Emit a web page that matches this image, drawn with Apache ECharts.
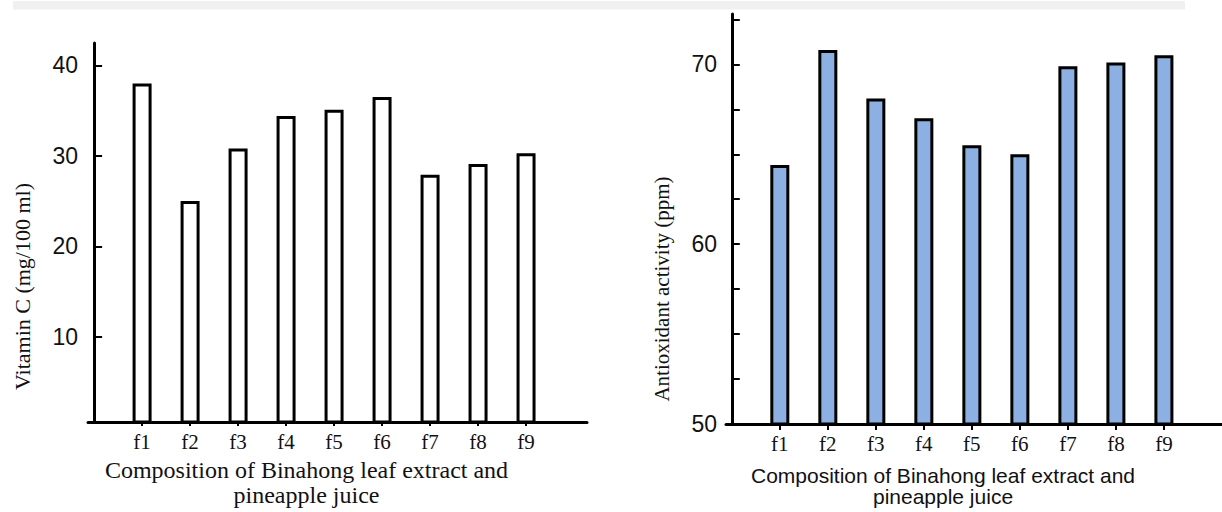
<!DOCTYPE html>
<html>
<head>
<meta charset="utf-8">
<script src="https://cdn.jsdelivr.net/npm/echarts@6/dist/echarts.min.js"></script>
<style>
html,body{margin:0;padding:0;background:#fff;}
#chart{width:1222px;height:512px;}
</style>
</head>
<body>
<div id="chart"></div>
<script>
// ---- data ----
const categories = ['f1', 'f2', 'f3', 'f4', 'f5', 'f6', 'f7', 'f8', 'f9'];
const vitaminC = [38.0, 25.0, 30.8, 34.4, 35.1, 36.5, 27.9, 29.1, 30.3];
const antioxidant = [64.4, 70.8, 68.1, 67.0, 65.5, 65.0, 69.9, 70.1, 70.5];
const vitaminCTicks = [10, 20, 30, 40];
const antioxidantTicks = [52.5, 55, 57.5, 60, 62.5, 65, 67.5, 70, 72.5];
const antioxidantLabels = [50, 60, 70];
const xNameLeft = 'Composition of Binahong leaf extract and\npineapple juice';
const xNameRight = 'Composition of Binahong leaf extract and\npineapple juice';
const yNameLeft = 'Vitamin C (mg/100 ml)';
const yNameRight = 'Antioxidant activity (ppm)';

const positions = categories.map((c, i) => i + 1);
const serif = '"Liberation Serif", "Times New Roman", serif';
const sans = '"Liberation Sans", Arial, sans-serif';

function makeX(gridIndex, min, max, tickLen, name, nameFont, nameSize, lineH, gap) {
  return {
    type: 'value', gridIndex: gridIndex, min: min, max: max, z: 5,
    axisLine: { show: true, lineStyle: { color: '#000', width: 3 } },
    axisTick: { show: true, customValues: positions, length: tickLen, lineStyle: { color: '#000', width: 2 } },
    axisLabel: {
      customValues: positions, margin: 9,
      formatter: v => categories[Math.round(v) - 1] || '',
      fontFamily: serif, fontSize: 21, color: '#111'
    },
    splitLine: { show: false },
    name: name, nameLocation: 'middle', nameGap: gap,
    nameTextStyle: { fontFamily: nameFont, fontSize: nameSize, lineHeight: lineH, color: '#111', padding: [0, 62, 0, 0] }
  };
}

const option = {
  animation: false,
  backgroundColor: '#fff',
  graphic: [{
    type: 'rect', z: -1,
    shape: { x: 13, y: 1, width: 1172, height: 8.5 },
    style: { fill: '#f0f0f0' }
  }],
  grid: [
    { left: 88, top: 43, width: 499, height: 381 },
    { left: 726, top: 14, width: 496, height: 410 }
  ],
  xAxis: [
    makeX(0, -0.127, 10.27, 4, xNameLeft, serif, 24, 25, 35),
    makeX(1, -0.121, 10.21, 6, xNameRight, sans, 21, 21, 41)
  ],
  yAxis: [
    {
      type: 'value', gridIndex: 0, min: 0.57, max: 42.48, z: 5,
      axisLine: { show: true, lineStyle: { color: '#000', width: 3 } },
      axisTick: { show: true, inside: true, length: 8, customValues: vitaminCTicks, lineStyle: { color: '#000', width: 2 } },
      axisLabel: { customValues: vitaminCTicks, margin: 10, fontFamily: sans, fontSize: 23, color: '#111' },
      splitLine: { show: false },
      name: yNameLeft, nameLocation: 'middle', nameRotate: 90, nameGap: 55,
      nameTextStyle: { fontFamily: serif, fontSize: 22, color: '#111', padding: [0, 108, 0, 0] }
    },
    {
      type: 'value', gridIndex: 1, min: 50, max: 72.8, z: 5,
      axisLine: { show: true, lineStyle: { color: '#000', width: 3 } },
      axisTick: { show: true, inside: true, length: 8, customValues: antioxidantTicks, lineStyle: { color: '#000', width: 2 } },
      axisLabel: { customValues: antioxidantLabels, margin: 9, fontFamily: sans, fontSize: 23, color: '#111' },
      splitLine: { show: false },
      name: yNameRight, nameLocation: 'middle', nameRotate: 90, nameGap: 54,
      nameTextStyle: { fontFamily: serif, fontSize: 21, color: '#111', padding: [0, 140, 0, 0] }
    }
  ],
  series: [
    {
      type: 'bar', xAxisIndex: 0, yAxisIndex: 0, barWidth: 19, clip: true,
      itemStyle: { color: '#ffffff', borderColor: '#000', borderWidth: 3 },
      data: vitaminC.map((v, i) => [positions[i], v])
    },
    {
      type: 'bar', xAxisIndex: 1, yAxisIndex: 1, barWidth: 19, clip: true,
      itemStyle: { color: '#8db0e3', borderColor: '#000', borderWidth: 3 },
      data: antioxidant.map((v, i) => [positions[i], v])
    }
  ]
};

const chart = echarts.init(document.getElementById('chart'), null, { renderer: 'svg' });
chart.setOption(option);
</script>
</body>
</html>
